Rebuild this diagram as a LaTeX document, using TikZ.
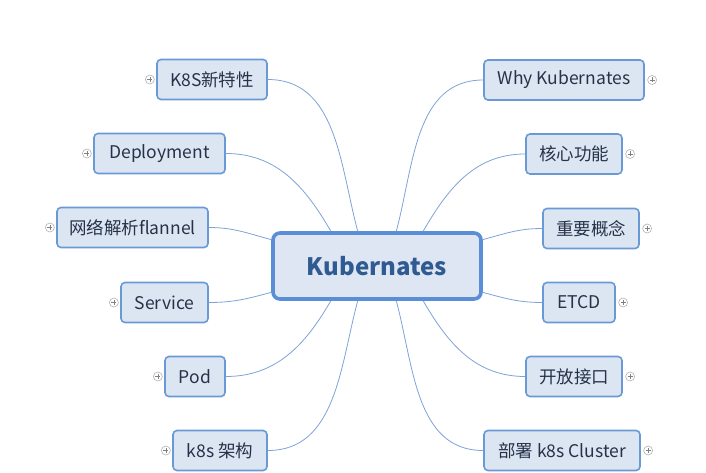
\documentclass[tikz,border=0pt]{standalone}
\usepackage{fontspec}
\setmainfont{Noto Sans CJK SC}
\usetikzlibrary{positioning}
\definecolor{leaffill}{HTML}{DCE6F2}
\definecolor{leafline}{HTML}{6A9AD6}
\definecolor{leaftext}{HTML}{27324A}
\definecolor{rootfill}{HTML}{DDE6F2}
\definecolor{rootline}{HTML}{5A8FD8}
\definecolor{roottext}{HTML}{2F5B92}
\definecolor{branchline}{HTML}{7FA3D8}

\begin{document}
\begin{tikzpicture}[x=1pt,y=1pt,
		leaf/.style={draw=leafline,line width=1.6pt,fill=leaffill,rounded corners=4pt,minimum height=40pt,inner sep=0pt,text=leaftext,font=\fontsize{17.5}{20}\selectfont},
		root/.style={draw=rootline,line width=3.6pt,fill=rootfill,rounded corners=7pt,minimum width=208pt,minimum height=66pt,text=roottext,font=\fontsize{24}{28}\selectfont\bfseries},
		branch/.style={draw=branchline,line width=0.8pt},
		plus/.style={circle,draw=gray!60,line width=0.6pt,minimum size=9pt,inner sep=0pt,
			path picture={\draw[gray,line width=0.6pt]([xshift=2pt]path picture bounding box.west)--([xshift=-2pt]path picture bounding box.east)
			([yshift=-2pt]path picture bounding box.north)--([yshift=2pt]path picture bounding box.south);}}]
		\useasboundingbox[fill=white](0,0) rectangle (706,472);
		\node[root] (kube) at (377,206) {Kubernates};
		% left side
		\node[leaf,minimum width=110pt] (k8snew) at (212,392.5) {K8S新特性};
		\node[leaf,minimum width=131pt] (deploy) at (159.5,318.5) {Deployment};
		\node[leaf,minimum width=151pt] (flannel) at (132.5,244.5) {网络解析flannel};
		\node[leaf,minimum width=87pt] (service) at (164.5,169.5) {Service};
		\node[leaf,minimum width=60pt] (pod) at (195,95.5) {Pod};
		\node[leaf,minimum width=94pt] (arch) at (220,21.5) {k8s 架构};
		% right side
		\node[leaf,minimum width=160pt] (why) at (564,392) {Why Kubernates};
		\node[leaf,minimum width=96pt] (core) at (574,318) {核心功能};
		\node[leaf,minimum width=96pt] (concept) at (591,243.5) {重要概念};
		\node[leaf,minimum width=72pt] (etcd) at (579,169.5) {ETCD};
		\node[leaf,minimum width=96pt] (api) at (574,95.5) {开放接口};
		\node[leaf,minimum width=156pt] (cluster) at (562,21.5) {部署 k8s Cluster};

		\foreach \n in {k8snew,deploy,flannel,service,pod,arch}
			\node[plus,left=1.5pt of \n] (\n-p) {};
		\foreach \n in {why,core,concept,etcd,api,cluster}
			\node[plus,right=2.5pt of \n] (\n-p) {};

		\draw[branch](k8snew.east) to[out=0,in=105] (kube.119);
		\draw[branch](deploy.east) to[out=0,in=120] (kube.143);
		\draw[branch](flannel.east) to[out=0,in=165] (kube.166);
		\draw[branch](service.east) to[out=0,in=195] (kube.194);
		\draw[branch](pod.east) to[out=0,in=240] (kube.217);
		\draw[branch](arch.east) to[out=0,in=255] (kube.241);
		\draw[branch](why.west) to[out=180,in=75] (kube.61);
		\draw[branch](core.west) to[out=180,in=60] (kube.37);
		\draw[branch](concept.west) to[out=180,in=15] (kube.14);
		\draw[branch](etcd.west) to[out=180,in=-15] (kube.-14);
		\draw[branch](api.west) to[out=180,in=-60] (kube.-37);
		\draw[branch](cluster.west) to[out=180,in=-75] (kube.-61);
	\end{tikzpicture}
\end{document}
